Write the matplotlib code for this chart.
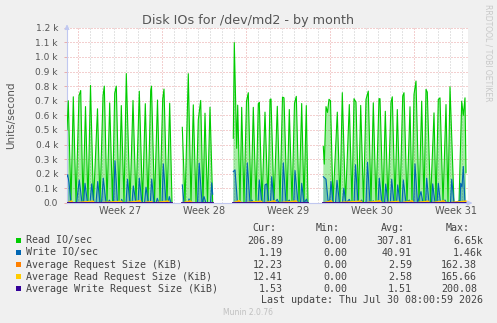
"""
Munin-style monthly disk IO graph for /dev/md2
"""

import matplotlib
matplotlib.use('Agg')

import matplotlib.pyplot as plt
from matplotlib.patches import Rectangle
import numpy as np

plt.rcParams['font.family'] = 'DejaVu Sans'

W, H = 497, 323

# time axis: hours since Monday 00:00 of week 27; None = no data (gap)
read_io = [
    (-22, 500), (-19.4, 700), (-14, 0), (-9.4, 727), (-4, 0), (2, 734), (5.4, 770), (10, 0),
    (15, 660), (20, 0), (25, 805), (31, 0), (39, 645), (44, 0), (50, 732), (52.6, 800), (58, 0),
    (63.4, 685), (69, 0), (73.4, 750), (76.6, 800), (82, 0), (86.6, 667), (92, 0), (96.6, 886),
    (104, 0), (110, 702), (116, 0), (122.6, 765), (129, 0), (134.6, 680), (140, 0), (145.4, 770),
    (147, 800), (153, 0), (159, 705), (164, 0), (169.4, 712), (172, 780), (178, 0), (183.4, 683),
    (188, 0),
    None,
    (208.6, 518), (214, 0), (220.6, 885), (226, 0), (230.6, 672), (236, 0), (240.6, 570),
    (245.4, 702), (250, 0), (254, 615), (259, 0), (264, 656), (269.4, 0),
    None,
    (310.6, 443), (312.6, 1098), (317.4, 374), (319.4, 670), (324, 0), (327.4, 655), (332, 0),
    (337, 697), (340.6, 755), (346, 0), (350.6, 655), (356, 0), (360.6, 680), (362.6, 688),
    (368, 0), (374, 622), (380, 0), (384, 709), (386, 712), (392, 0), (398.6, 662), (404, 0),
    (409, 725), (412, 720), (418, 0), (422.6, 640), (428, 0), (433, 683), (436.6, 730), (442, 0),
    (447.4, 681), (452, 0), (456.6, 667), (460, 0),
    None,
    (490.6, 387), (492.6, 266), (496, 660), (499, 620), (502, 710), (505, 700), (510, 0),
    (518.6, 622), (524, 0), (528.6, 755), (535, 0), (542.6, 674), (548, 0), (552, 714),
    (556, 690), (561, 0), (565.4, 668), (571, 0), (576, 709), (580.6, 766), (586, 0),
    (590.6, 686), (596, 0), (602, 714), (604, 714), (610, 0), (614.6, 628), (620, 0),
    (626, 690), (628.6, 727), (634, 0), (638.6, 640), (644, 0), (649.4, 731), (652, 755),
    (658, 0), (664, 659), (668, 0), (672, 743), (676, 835), (682, 0), (687.4, 697), (692, 0),
    (696, 778), (698.6, 759), (705, 0), (712, 617), (716, 0), (720.6, 709), (724, 720),
    (730, 0), (736, 674), (740, 0), (744, 796), (752, 0), (762, 0), (767.4, 697), (770.6, 600),
    (774, 720), (776, 207),
]

write_io = [
    (-22, 180), (-20.6, 193), (-18, 140), (-14, 0), (-3, 0), (2.6, 158), (8, 0), (11, 0),
    (14, 135), (19, 0), (24, 0), (27.4, 131), (32, 0), (36, 0), (39.4, 147), (44, 0), (47, 0),
    (50.6, 170), (56, 0), (60, 0), (62.6, 20), (66, 0), (71, 0), (74, 289), (79, 0), (85, 0),
    (87.4, 25), (90, 0), (96, 0), (99, 163), (104, 0), (108, 0), (110.6, 117), (116, 0),
    (120, 0), (122.6, 170), (128, 0), (133, 0), (136, 108), (141, 0), (144.6, 0), (147.4, 164),
    (152, 0), (156, 0), (158.6, 32), (162, 0), (168, 0), (170.6, 268), (176, 0), (180, 0),
    (182.6, 44), (186, 0),
    None,
    (208.6, 124), (212, 0), (220, 0), (222, 28), (225, 0), (239, 0), (242.4, 273), (248, 0),
    (252, 44), (256, 0), (265, 0), (267.4, 138), (269.4, 60),
    None,
    (310.6, 215), (314, 227), (319, 0), (336, 0), (338.6, 275), (344, 0), (348, 20), (351, 0),
    (360, 0), (362.6, 158), (368, 0), (372, 0), (374, 124), (377.4, 131), (382, 0), (385, 0),
    (387.4, 180), (392, 0), (398.6, 25), (402, 0), (408, 0), (410.6, 275), (416, 0),
    (422.6, 20), (426, 0), (431.4, 0), (434, 222), (440, 0), (445, 0), (447.4, 135), (452, 0),
    (457, 27), (459, 0),
    None,
    (490.6, 180), (496, 163), (500, 20), (503, 0), (506, 147), (510, 0), (515, 0), (518, 155),
    (523, 0), (529, 0), (531.6, 101), (536, 0), (542.6, 25), (546, 0), (552, 0), (555, 262),
    (560, 0), (567.4, 20), (570, 0), (576, 0), (579, 279), (584, 0), (590.6, 15), (594, 0),
    (600, 0), (602.6, 170), (608, 0), (613, 0), (615.4, 130), (620, 0), (624.6, 0),
    (627.4, 163), (632, 0), (637, 0), (639.4, 124), (644, 0), (648, 0), (650.6, 158), (656, 0),
    (662.6, 20), (666, 0), (671.4, 0), (674, 268), (679, 0), (686, 78), (690, 0), (695, 0),
    (697.4, 170), (702, 0), (707, 0), (709.4, 131), (714, 0), (718, 0), (720.6, 135), (725, 0),
    (734, 20), (737, 0), (745, 0), (747.4, 163), (752, 0), (762.6, 15), (764, 0), (765.4, 135),
    (768, 110), (770.6, 250), (774, 0), (776, 1),
]

avg_rq_size = [
    (-22, 0), (-13, 12), (-10, 0), (30, 10), (33, 0), (87, 9), (90, 0), (124, 12), (127, 0),
    (147, 8), (150, 0), (180, 11), (183, 0), (188, 0),
    None,
    (208.6, 0), (224, 12), (230, 0), (269.4, 0),
    None,
    (310.6, 0), (322, 14), (328, 0), (366, 10), (370, 0), (393, 12), (397, 0), (436, 11),
    (440, 0), (460, 0),
    None,
    (490.6, 0), (506, 12), (510, 0), (566, 11), (570, 0), (604, 12), (608, 0), (640, 10),
    (644, 0), (668, 12), (672, 0), (700, 11), (704, 0), (732, 12), (736, 0), (776, 12),
]

avg_rd_rq_size = [
    (-22, 0), (-13, 14), (-10, 0), (30, 13), (33, 0), (87, 12), (90, 0), (124, 15), (127, 0),
    (147, 10), (150, 0), (180, 14), (183, 0), (188, 0),
    None,
    (208.6, 0), (224, 15), (230, 0), (269.4, 0),
    None,
    (310.6, 0), (322, 17), (328, 0), (366, 13), (370, 0), (393, 15), (397, 0), (436, 14),
    (440, 0), (460, 0),
    None,
    (490.6, 0), (506, 15), (510, 0), (566, 13), (570, 0), (604, 15), (608, 0), (640, 12),
    (644, 0), (668, 15), (672, 0), (700, 13), (704, 0), (732, 15), (736, 0), (776, 12),
]

avg_wr_rq_size = [
    (-22, 1.5), (188, 1.5),
    None,
    (208.6, 1.5), (269.4, 1.5),
    None,
    (310.6, 1.5), (460, 1.5),
    None,
    (490.6, 1.5), (776, 1.5),
]

series_names = ['Read IO/sec', 'Write IO/sec', 'Average Request Size (KiB)',
                'Average Read Request Size (KiB)', 'Average Write Request Size (KiB)']
series_colors = ['#00CC00', '#0066B3', '#FF8000', '#FFCC00', '#330099']
cur_vals = ['206.89', '1.19', '12.23', '12.41', '1.53']
min_vals = ['0.00', '0.00', '0.00', '0.00', '0.00']
avg_vals = ['307.81', '40.91', '2.59', '2.58', '1.51']
max_vals = ['6.65k', '1.46k', '162.38', '165.66', '200.08']

week_labels = ['Week 27', 'Week 28', 'Week 29', 'Week 30', 'Week 31']
x_start, x_end = -22, 780


def unpack(points):
    xs, ys = [], []
    for p in points:
        if p is None:
            xs.append(np.nan)
            ys.append(np.nan)
        else:
            xs.append(p[0])
            ys.append(p[1])
    return np.array(xs), np.array(ys)


def fx(px):
    return px / W


def fy(py):
    return 1 - py / H


fig = plt.figure(figsize=(W / 100, H / 100), dpi=100, facecolor='#F0F0F0')
ax = fig.add_axes([fx(67), fy(203), (468 - 67) / W, (203 - 27.7) / H])
ax.set_facecolor('white')
ax.set_xlim(x_start, x_end)
ax.set_ylim(0, 1200)

# grid: day lines grey, week lines and value lines red
for h in range(0, x_end, 24):
    if h % 168 == 0:
        ax.axvline(h, color='#E8A0A0', lw=0.72, linestyle=(0, (1, 2)), zorder=1)
    else:
        ax.axvline(h, color='#C8C8C8', lw=0.72, linestyle=(0, (1, 2)), zorder=1)
for v in range(100, 1300, 100):
    ax.axhline(v, color='#E8A0A0', lw=0.72, linestyle=(0, (1, 2)), zorder=1)

all_series = [read_io, write_io, avg_rq_size, avg_rd_rq_size, avg_wr_rq_size]
widths = [0.8, 0.8, 0.9, 0.9, 1.3]
# the dense 2h samples of rrdtool show up as a pale band under the io spikes
shade = [0.35, 0.3, 0, 0, 0]
for pts, color, lw, a in zip(all_series, series_colors, widths, shade):
    xs, ys = unpack(pts)
    if a:
        ax.fill_between(xs, 0, ys, color=color, alpha=a, lw=0, zorder=2)
    ax.plot(xs, ys, color=color, lw=lw, zorder=3)

for s in ['top', 'right']:
    ax.spines[s].set_visible(False)
for s in ['left', 'bottom']:
    ax.spines[s].set_color('#C0C8F0')
    ax.spines[s].set_linewidth(0.8)

ax.annotate('', xy=(1.018, 0), xytext=(0.99, 0), xycoords='axes fraction',
            arrowprops=dict(arrowstyle='-|>', color='#C0C8F0', lw=0.8, mutation_scale=7),
            annotation_clip=False)
ax.annotate('', xy=(0, 1.035), xytext=(0, 0.98), xycoords='axes fraction',
            arrowprops=dict(arrowstyle='-|>', color='#C0C8F0', lw=0.8, mutation_scale=7),
            annotation_clip=False)

yticks = list(range(0, 1300, 100))
ax.set_yticks(yticks)
ax.set_yticklabels(['0.0'] + ['%.1f k' % (v / 1000) for v in yticks[1:]])
ax.tick_params(axis='y', length=2, width=0.6, color='#E8A0A0', pad=4.5,
               labelsize=6.5, labelcolor='#555555')
ax.set_xticks([84 + 168 * i for i in range(len(week_labels))])
ax.set_xticklabels(week_labels)
ax.tick_params(axis='x', length=0, pad=2.5, labelsize=7, labelcolor='#555555')

fig.text(fx(248.5), fy(24), 'Disk IOs for /dev/md2 - by month', ha='center', va='baseline',
         fontsize=9.2, color='#555555')
fig.text(fx(11), fy(115), 'Units/second', rotation=90, ha='center', va='center',
         fontsize=7.5, color='#555555')
fig.text(fx(488), fy(53), 'RRDTOOL / TOBI OETIKER', rotation=270, ha='center', va='center',
         fontsize=5.5, color='#C8C8C8')

# legend block
mono = dict(family='DejaVu Sans Mono', fontsize=7.2, color='#444444', va='baseline')
for label, right in zip(['Cur:', 'Min:', 'Avg:', 'Max:'], [276, 340, 405, 470]):
    fig.text(fx(right), fy(230.7), label, ha='right', **mono)

row_y = [240, 252, 264, 276, 288]
for i, y in enumerate(row_y):
    fig.patches.append(Rectangle((fx(15.5), fy(y + 2.5)), 5 / W, 5 / H,
                                 transform=fig.transFigure, facecolor=series_colors[i],
                                 edgecolor='none'))
    fig.text(fx(26), fy(y + 3.5), series_names[i], ha='left', **mono)
    fig.text(fx(283), fy(y + 3.5), cur_vals[i], ha='right', **mono)
    fig.text(fx(347), fy(y + 3.5), min_vals[i], ha='right', **mono)
    fig.text(fx(412), fy(y + 3.5), avg_vals[i], ha='right', **mono)
    mx = max_vals[i]
    fig.text(fx(483 if mx.endswith('k') else 477), fy(y + 3.5), mx, ha='right', **mono)

fig.text(fx(483), fy(303.3), 'Last update: Thu Jul 30 08:00:59 2026', ha='right', **mono)
fig.text(fx(248), fy(315), 'Munin 2.0.76', ha='center', va='baseline', fontsize=5.5,
         color='#C0C0C0')

fig.savefig('out.png', dpi=100, facecolor='#F0F0F0')
